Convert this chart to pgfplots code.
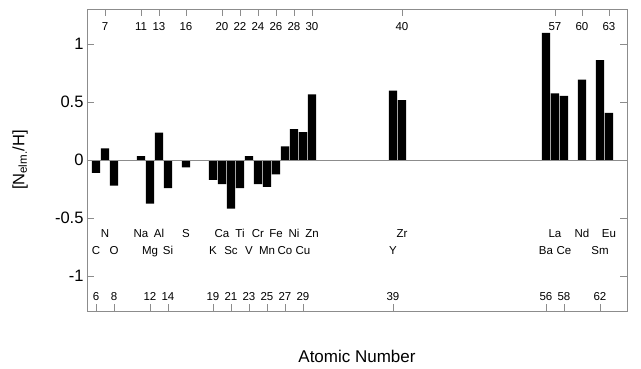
\documentclass[border=0pt]{standalone}
\usepackage{pgfplots}
\pgfplotsset{compat=1.18}
\usepackage{fontspec}
\setmainfont{Liberation Sans}

% [X/H] abundance of each element against its atomic number
\pgfplotstableread{
Z  val
6  -0.11
7   0.10
8  -0.22
11  0.034
12 -0.376
13  0.236
14 -0.242
16 -0.063
19 -0.171
20 -0.208
21 -0.419
22 -0.242
23  0.034
24 -0.208
25 -0.231
26 -0.123
27  0.117
28  0.265
29  0.239
30  0.564
39  0.598
40  0.516
56  1.094
57  0.573
58  0.553
60  0.692
62  0.860
63  0.405
}\abund

% element symbols, in two staggered rows (baseline positions)
\pgfplotstableread{
Z  ypos   label
7  -0.663 N
11 -0.663 Na
13 -0.663 Al
16 -0.663 S
20 -0.663 Ca
22 -0.663 Ti
24 -0.663 Cr
26 -0.663 Fe
28 -0.663 Ni
30 -0.663 Zn
40 -0.663 Zr
57 -0.663 La
60 -0.663 Nd
63 -0.663 Eu
6  -0.812 C
8  -0.812 O
12 -0.812 Mg
14 -0.812 Si
19 -0.812 K
21 -0.812 Sc
23 -0.812 V
25 -0.812 Mn
27 -0.812 Co
29 -0.812 Cu
39 -0.812 Y
56 -0.812 Ba
58 -0.812 Ce
62 -0.812 Sm
}\symbols

\definecolor{frame}{gray}{0.55}
\newcommand\smallfont{\fontsize{11.5}{13}\selectfont}

\begin{document}
\begin{tikzpicture}
\pgfplotsset{
  common/.style={
    at={(0,0)}, anchor=south west,
    scale only axis, width=540pt, height=302pt,
    xmin=5, xmax=65, ymin=-1.3, ymax=1.3,
    axis line style={frame},
    every tick/.style={frame},
    tick align=inside,
    major tick length=7pt,
  },
}
% top row of atomic numbers
\begin{axis}[common,
  xtick={7,11,13,16,20,22,24,26,28,30,40,57,60,63},
  xticklabels={7,11,13,16,20,22,24,26,28,30,40,57,60,63},
  xtick pos=right, xticklabel pos=right,
  xticklabel style={font=\smallfont, anchor=base, yshift=-21pt},
  ytick=\empty,
]
\end{axis}
% main axis with the bars
\begin{axis}[common,
  xtick={6,8,12,14,19,21,23,25,27,29,39,56,58,62},
  xticklabels={6,8,12,14,19,21,23,25,27,29,39,56,58,62},
  xtick pos=left,
  xticklabel style={font=\smallfont, anchor=base, yshift=11pt},
  ytick={-1,-0.5,0,0.5,1},
  yticklabels={-1,-0.5,0,0.5,1},
  ytick pos=both, yticklabel pos=left,
  yticklabel style={font=\fontsize{16.5}{18}\selectfont},
  xlabel={Atomic Number},
  xlabel style={font=\fontsize{17}{19}\selectfont, at={(axis description cs:0.5,-0.152)}, anchor=center},
  ylabel={[N\textsubscript{elm.}/H]},
  ylabel style={font=\fontsize{16.5}{18}\selectfont, at={(axis description cs:-0.124,0.5)}, anchor=center},
]
\addplot[ybar, bar width=0.9, bar shift=0pt, fill=black, draw=none] table[x=Z, y=val] {\abund};
\addplot[frame, line width=0.8pt] coordinates {(5,0) (65,0)};
\addplot[draw=none, mark=none, nodes near coords, point meta=explicit symbolic,
  nodes near coords style={anchor=base, font=\smallfont}]
  table[x=Z, y=ypos, meta=label] {\symbols};
\end{axis}
\pgfresetboundingbox
\path (-87pt,-57pt) rectangle (554pt,311pt);
\end{tikzpicture}
\end{document}
